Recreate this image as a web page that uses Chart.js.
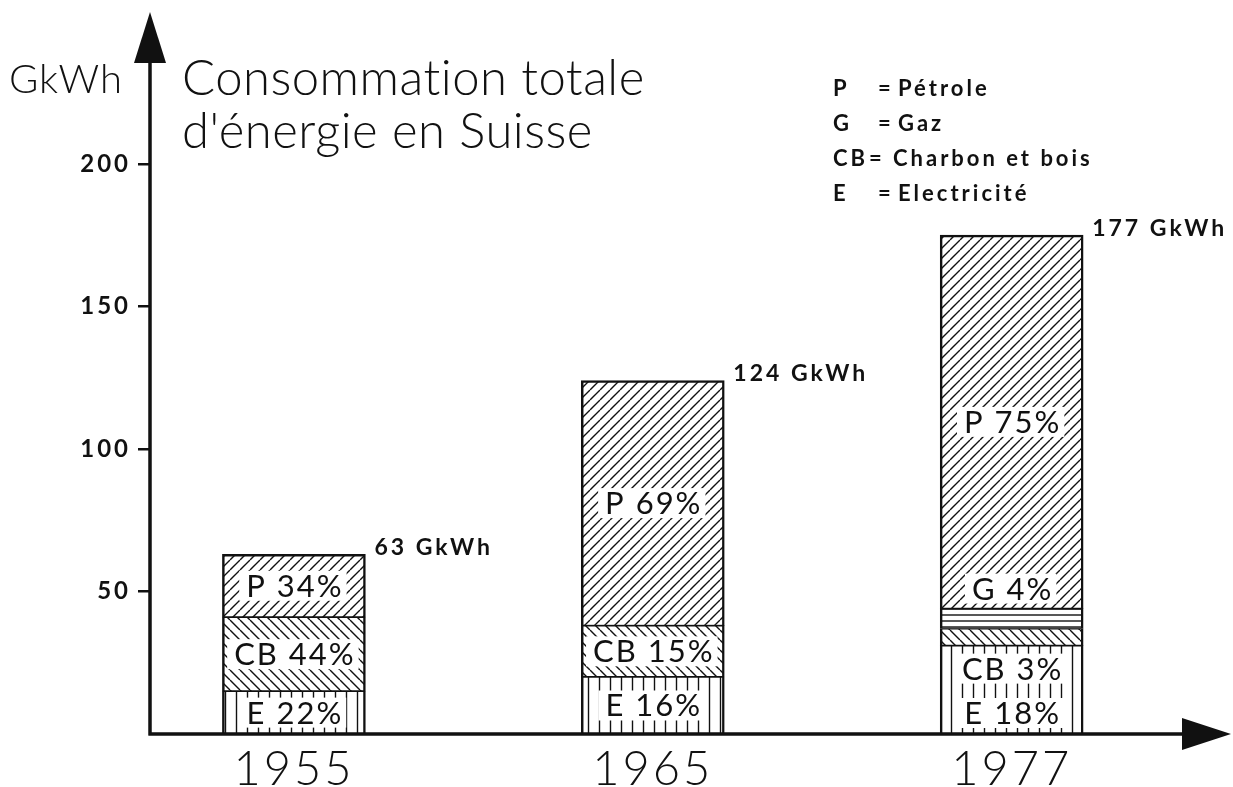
<!DOCTYPE html>
<html>
<head>
<meta charset="utf-8">
<script src="https://cdn.jsdelivr.net/npm/chart.js@4.4.0/dist/chart.umd.min.js"></script>
<style>
html, body { margin: 0; padding: 0; background: #fff; }
</style>
</head>
<body>
<canvas id="myChart" width="1233" height="787"></canvas>
<script>
// values (GkWh), bottom to top
const years = ['1955', '1965', '1977'];
const totals = [63, 124, 177];
const electricite = [15, 20, 31];
const charbonBois = [26, 18, 6];
const gaz = [null, null, 7];
const petrole = [22, 86, 131];

// percentages printed in the bars
const pctE = [22, 16, 18];
const pctCB = [44, 15, 3];
const pctG = [null, null, 4];
const pctP = [34, 69, 75];

const yTicks = [50, 100, 150, 200];

const legendKeys = ['P', 'G', 'CB', 'E'];
const legendNames = ['Pétrole', 'Gaz', 'Charbon et bois', 'Electricité'];

const INK = '#111';

function makePattern(kind) {
    const size = kind === 'h' ? 6 : (kind === 'v' ? 11 : 10);
    const c = document.createElement('canvas');
    c.width = size;
    c.height = size;
    const g = c.getContext('2d');
    g.fillStyle = '#fff';
    g.fillRect(0, 0, size, size);
    g.strokeStyle = INK;
    g.lineWidth = 1.4;
    g.beginPath();
    if (kind === '/') {
        for (let k = -size; k <= size; k += size) {
            g.moveTo(k, size);
            g.lineTo(k + size, 0);
        }
    } else if (kind === '\\') {
        for (let k = -size; k <= size; k += size) {
            g.moveTo(k, 0);
            g.lineTo(k + size, size);
        }
    } else if (kind === 'v') {
        g.moveTo(size / 2, 0);
        g.lineTo(size / 2, size);
    } else {
        g.moveTo(0, size / 2);
        g.lineTo(size, size / 2);
    }
    g.stroke();
    return g.createPattern(c, 'repeat');
}

function series(values) {
    return values.map((v, i) => ({ x: i, y: v }));
}

// percentages inside the bars, with a white box behind the text
const barLabels = {
    id: 'barLabels',
    afterDatasetsDraw(chart) {
        const ctx = chart.ctx;
        ctx.save();
        ctx.font = '31px Lato';
        ctx.letterSpacing = '2px';
        ctx.textAlign = 'center';
        ctx.textBaseline = 'middle';
        for (let i = 0; i < years.length; i++) {
            const segs = [];
            chart.data.datasets.forEach((ds, d) => {
                const el = chart.getDatasetMeta(d).data[i];
                if (!el || ds.pct[i] == null || ds.data[i].y == null) return;
                segs.push({ el, top: el.y, bot: el.base, text: ds.label + ' ' + ds.pct[i] + '%' });
            });
            segs.forEach(s => { s.cy = (s.top + s.bot) / 2; });
            segs.forEach((s, k) => {
                if (s.bot - s.top >= 34) return;
                const below = segs[k - 1], above = segs[k + 1];
                const hb = below ? below.bot - below.top : 0;
                const ha = above ? above.bot - above.top : 0;
                if (ha >= hb) {
                    s.cy = s.top - 20;
                } else {
                    s.cy = s.bot + 23;
                    below.cy = below.bot - 21;
                }
            });
            segs.forEach(s => {
                const w = ctx.measureText(s.text).width;
                ctx.fillStyle = '#fff';
                ctx.fillRect(s.el.x - w / 2 - 6, s.cy - 15, w + 10, 30);
                ctx.fillStyle = INK;
                ctx.fillText(s.text, s.el.x + 1, s.cy + 1);
            });
        }
        ctx.restore();
    }
};

// axes with arrows, title, legend, totals
const decor = {
    id: 'decor',
    beforeDraw(chart) {
        chart.ctx.letterSpacing = '3px';
    },
    afterDraw(chart) {
        const ctx = chart.ctx;
        const area = chart.chartArea;
        const y0 = chart.scales.y.getPixelForValue(0);
        ctx.save();
        ctx.strokeStyle = INK;
        ctx.fillStyle = INK;
        ctx.lineWidth = 3.5;
        ctx.beginPath();
        ctx.moveTo(area.left, y0 + 1.5);
        ctx.lineTo(area.left, 60);
        ctx.moveTo(area.left - 1.5, y0);
        ctx.lineTo(1186, y0);
        ctx.stroke();
        ctx.beginPath();
        ctx.moveTo(area.left, 12);
        ctx.lineTo(area.left - 16, 63);
        ctx.lineTo(area.left + 16, 63);
        ctx.closePath();
        ctx.fill();
        ctx.beginPath();
        ctx.moveTo(1231, y0);
        ctx.lineTo(1182, y0 - 16);
        ctx.lineTo(1182, y0 + 16);
        ctx.closePath();
        ctx.fill();

        ctx.textBaseline = 'alphabetic';
        ctx.textAlign = 'left';
        ctx.letterSpacing = '1px';
        ctx.font = '300 40px Lato';
        ctx.fillText('GkWh', 9, 93);
        // non-zero spacing also keeps Lato from joining "ti"
        ctx.letterSpacing = '0.5px';
        ctx.font = '300 49px Lato';
        ctx.fillText('Consommation totale', 182, 95);
        ctx.fillText("d'énergie en Suisse", 182, 148);

        ctx.letterSpacing = '3px';
        ctx.font = 'bold 22px Lato';
        legendKeys.forEach((k, i) => {
            const y = 96 + i * 35;
            ctx.fillText(k, 833, y);
            ctx.fillText('=', k.length > 1 ? 869 : 878, y);
            ctx.fillText(legendNames[i], k.length > 1 ? 893 : 898, y);
        });

        ctx.font = 'bold 23px Lato';
        ctx.textBaseline = 'middle';
        const topMeta = chart.getDatasetMeta(chart.data.datasets.length - 1);
        topMeta.data.forEach((el, i) => {
            ctx.fillText(totals[i] + ' GkWh', el.x + el.width / 2 + 9, el.y - 7);
        });
        ctx.restore();
    }
};

const patterns = {
    E: makePattern('v'),
    CB: makePattern('\\'),
    G: makePattern('h'),
    P: makePattern('/')
};

const innerBorder = { left: 2.5, right: 2.5, top: 1.2, bottom: 1.2 };
const topBorder = { left: 2.5, right: 2.5, top: 2.5, bottom: 1.2 };

new Chart(document.getElementById('myChart'), {
    type: 'bar',
    data: {
        datasets: [
            { label: 'E', data: series(electricite), pct: pctE, backgroundColor: patterns.E, borderWidth: innerBorder },
            { label: 'CB', data: series(charbonBois), pct: pctCB, backgroundColor: patterns.CB, borderWidth: innerBorder },
            { label: 'G', data: series(gaz), pct: pctG, backgroundColor: patterns.G, borderWidth: innerBorder },
            { label: 'P', data: series(petrole), pct: pctP, backgroundColor: patterns.P, borderWidth: topBorder }
        ]
    },
    options: {
        responsive: false,
        animation: false,
        layout: { padding: { top: 19, right: 6, left: 0, bottom: 0 } },
        datasets: {
            bar: { barThickness: 143, borderColor: INK, borderSkipped: false }
        },
        plugins: {
            legend: { display: false },
            tooltip: { enabled: false }
        },
        scales: {
            x: {
                type: 'linear',
                stacked: true,
                min: -0.401,
                max: 2.6,
                offset: false,
                grid: { display: false, drawTicks: false, offset: false },
                border: { display: false },
                afterBuildTicks: s => { s.ticks = years.map((y, i) => ({ value: i })); },
                afterFit: s => { s.height = 53; },
                ticks: {
                    callback: v => years[v],
                    autoSkip: false,
                    maxRotation: 0,
                    padding: 8,
                    color: INK,
                    font: { family: 'Lato', weight: 300, size: 47 }
                }
            },
            y: {
                stacked: true,
                min: 0,
                max: 250,
                grid: { drawOnChartArea: false, drawTicks: true, tickLength: 12, lineWidth: 2.5, color: INK },
                border: { display: false },
                afterBuildTicks: s => { s.ticks = yTicks.map(v => ({ value: v })); },
                afterFit: s => { s.width = 150; },
                ticks: {
                    padding: 7,
                    color: INK,
                    font: { family: 'Lato', weight: 'bold', size: 24 }
                }
            }
        }
    },
    plugins: [barLabels, decor]
});
</script>
</body>
</html>
